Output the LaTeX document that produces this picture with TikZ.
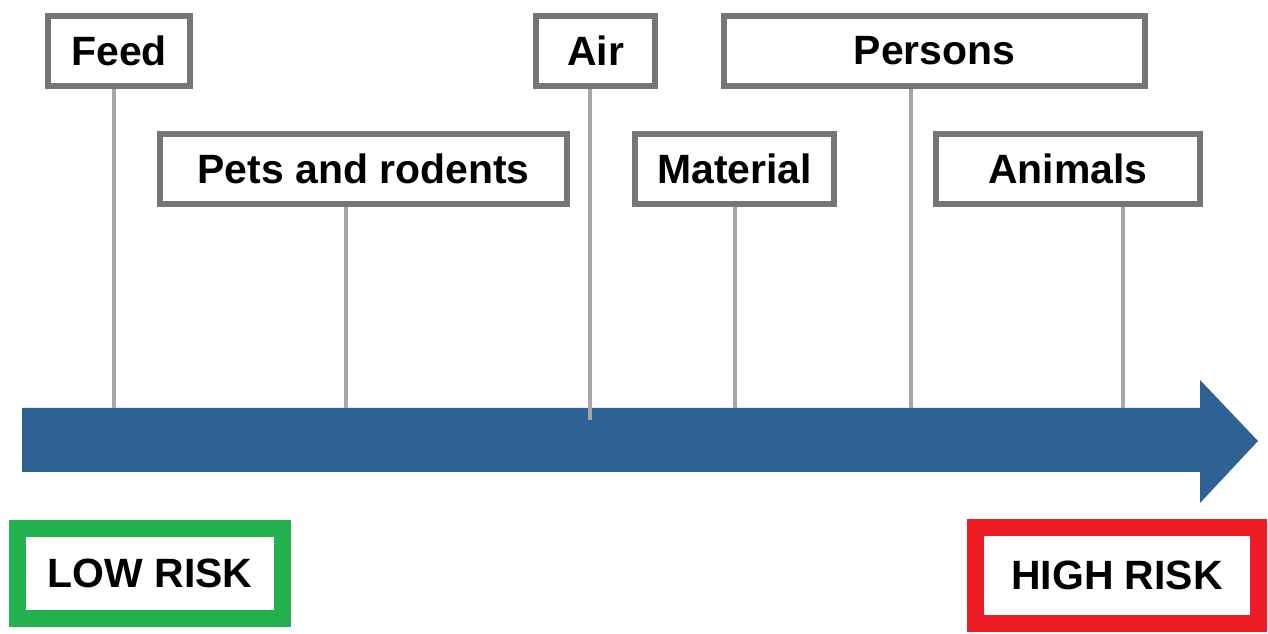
\documentclass[tikz,border=0pt]{standalone}
\usepackage{xcolor}
\usepackage{fontspec}
\setmainfont{Liberation Sans}
\usepackage{tikz}
\usetikzlibrary{positioning}

\definecolor{arrowblue}{RGB}{46,98,148}
\definecolor{boxgray}{RGB}{118,118,118}
\definecolor{linegray}{RGB}{166,166,166}
\definecolor{lowgreen}{RGB}{34,177,76}
\definecolor{highred}{RGB}{237,28,36}

\begin{document}
\begin{tikzpicture}[
    x=0.02cm, y=-0.02cm,
    box/.style={draw=boxgray, line width=0.12cm, fill=white, minimum height=1.4cm, inner sep=0pt, font=\bfseries\fontsize{23.3}{28}\selectfont},
    risk/.style={line width=0.34cm, fill=white, inner sep=0pt, font=\bfseries\fontsize{23.3}{28}\selectfont},
    link/.style={draw=linegray, line width=0.08cm},
]
\useasboundingbox (0,0) rectangle (1268,634);

% risk axis
\fill[arrowblue] (22,408) -- (1200,408) -- (1200,380) -- (1258,441) -- (1200,503) -- (1200,472) -- (22,472) -- cycle;

\node[box, minimum width=2.84cm] (feed) at (119, 51) {Feed};
\node[box, minimum width=2.38cm] (air) at (595.5, 51) {Air};
\node[box, minimum width=8.42cm] (persons) at (934.5, 51) {Persons};
\node[box, minimum width=8.14cm] (pets) at (363.5, 169) {Pets and rodents};
\node[box, minimum width=3.98cm] (material) at (734.5, 169) {Material};
\node[box, minimum width=5.28cm] (animals) at (1068, 169) {Animals};

\coordinate (feedfoot) at (114, 408);
\coordinate (petsfoot) at (346, 408);
\coordinate (airfoot) at (590, 420);
\coordinate (materialfoot) at (735, 408);
\coordinate (personsfoot) at (911, 408);
\coordinate (animalsfoot) at (1123, 408);

\foreach \n in {feed, pets, air, material, persons, animals}
    \draw[link] (\n foot |- \n.south) -- (\n foot);

\node[risk, draw=lowgreen, minimum width=5.3cm, minimum height=1.8cm] (low) at (150, 573.5) {LOW RISK};
\node[risk, draw=highred, minimum width=5.66cm, minimum height=1.92cm] (high) at (1117, 575.5) {HIGH RISK};
\end{tikzpicture}
\end{document}
